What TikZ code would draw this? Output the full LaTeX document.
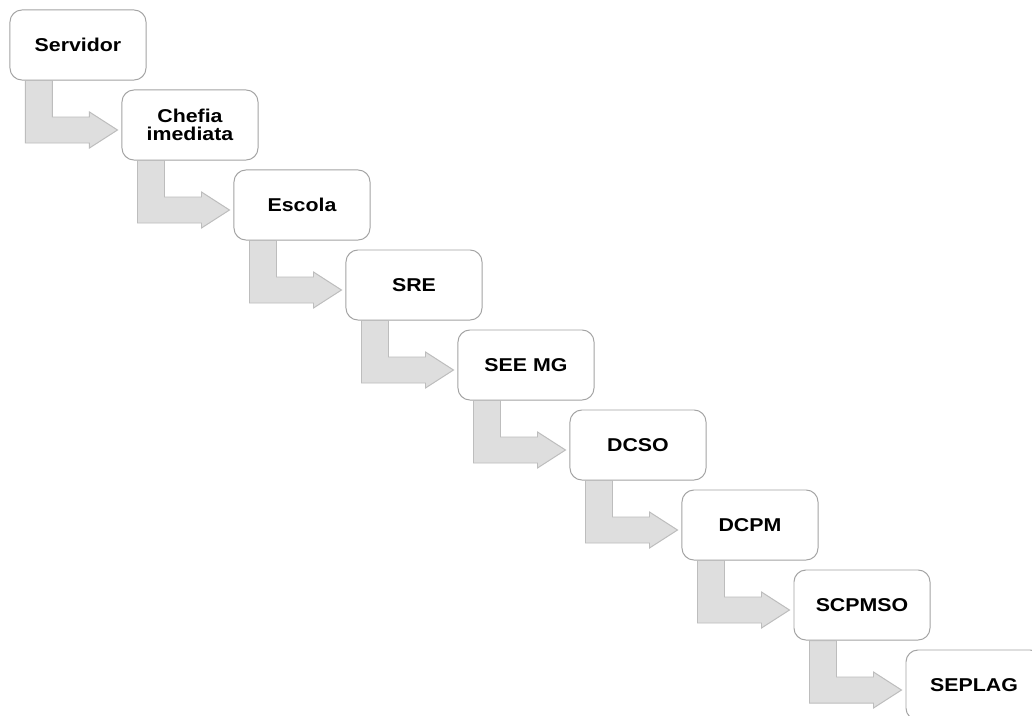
\documentclass[tikz,border=0pt]{standalone}
\usepackage{fontspec}
\usepackage{tikz}
\usetikzlibrary{positioning}
\newfontfamily\boxFont[FakeStretch=1.15]{Liberation Sans}
\definecolor{boxLine}{HTML}{A4A4A4}
\definecolor{arrowFill}{HTML}{DEDEDE}
\definecolor{arrowLine}{HTML}{BDBDBD}
\tikzstyle{flow} = [x = 0.025cm, y = -0.025cm]
\tikzstyle{stepBox} = [draw=boxLine, fill=white, line width=.7pt, rounded corners=.3cm, minimum width=3.4cm, minimum height=1.75cm, inner sep=0pt, align=center, font=\boxFont\bfseries\fontsize{13.2}{13.2}\selectfont]
\tikzstyle{arrowStyle} = [draw=arrowLine, fill=arrowFill, line width=.7pt]
\newcommand{\stepArrow}[2]{\filldraw [arrowStyle] ([shift={(16,0)}]#1.south west) -- ++(27,0) |- ([shift={(-32,-8)}]#2.west) -- ++(0,-5) -- ([shift={(-4,5)}]#2.west) -- ++(-28,18) -- ++(0,-5) -- ++(-64,0) -- cycle;}

\begin{document}
\begin{tikzpicture}[flow]
\useasboundingbox (0,0) rectangle (1032,716);
\fill[white] (0,0) rectangle (1032,716);
% steps of the process
\foreach \name/\label [count=\i from 0] in {servidor/Servidor, chefia/{Chefia\\imediata}, escola/Escola, sre/SRE, see/SEE MG, dcso/DCSO, dcpm/DCPM, scpmso/SCPMSO, seplag/SEPLAG} {
  \node [stepBox] (\name) at (78 + 112 * \i, 45 + 80 * \i) {\label};
}
\foreach \from/\to in {servidor/chefia, chefia/escola, escola/sre, sre/see, see/dcso, dcso/dcpm, dcpm/scpmso, scpmso/seplag} {
  \stepArrow{\from}{\to}
}
\end{tikzpicture}
\end{document}
